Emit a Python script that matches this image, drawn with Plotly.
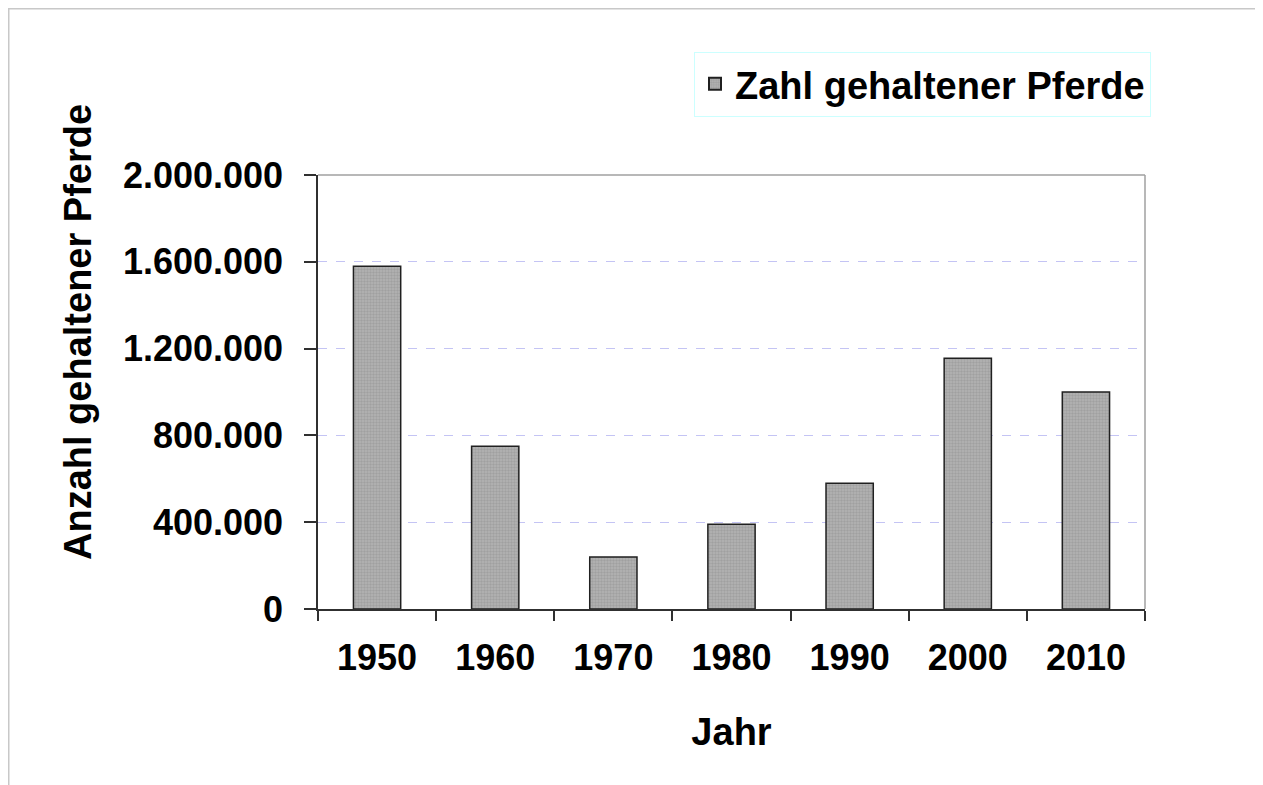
import plotly.graph_objects as go

years = ["1950", "1960", "1970", "1980", "1990", "2000", "2010"]
pferde = [1580000, 750000, 240000, 390000, 580000, 1155000, 1000000]
series_name = "Zahl gehaltener Pferde"
y_title = "Anzahl gehaltener Pferde"
x_title = "Jahr"
y_ticks = [0, 400000, 800000, 1200000, 1600000, 2000000]

FONT = "Liberation Sans, Arial, sans-serif"

W, H = 1263, 785
L, R, T, B = 310, 126, 167, 184
PW, PH = W - L - R, H - T - B


def px_x(x):
    return (x - L) / PW


def px_y(y):
    return (H - B - y) / PH


fig = go.Figure()
fig.add_trace(go.Bar(
    x=years, y=pferde, name=series_name,
    marker=dict(color="#A8A8A8",
                line=dict(color="#202020", width=1.5),
                pattern=dict(shape=".", fgcolor="#8C8C8C", bgcolor="#B4B4B4",
                             size=3, solidity=0.5)),
    showlegend=True,
))

fig.update_layout(
    width=W, height=H,
    margin=dict(l=L, r=R, t=T, b=B),
    paper_bgcolor="white", plot_bgcolor="white",
    separators=",.",
    bargap=0.6,
    font=dict(family=FONT, color="black", size=36),
    showlegend=True,
    legend=dict(x=px_x(1143), y=px_y(76), xanchor="right", yanchor="middle",
                bordercolor="#CCFFFF", borderwidth=1, bgcolor="white",
                font=dict(family=FONT, size=38, color="black", weight="bold"),
                itemsizing="constant"),
    xaxis=dict(
        type="category",
        showline=True, linecolor="#303030", linewidth=1.5,
        ticks="outside", ticklen=10, tickcolor="#303030", tickwidth=1.5,
        tickson="boundaries",
        showgrid=False,
        tickfont=dict(family=FONT, size=36, color="black", weight="bold"),
        ticklabelstandoff=16,
        title=dict(text="<b>" + x_title + "</b>",
                   font=dict(family=FONT, size=38, color="black"), standoff=41),
    ),
    yaxis=dict(
        range=[0, 2000000],
        tickvals=y_ticks,
        tickformat=",d",
        showline=True, linecolor="#303030", linewidth=1.5,
        ticks="outside", ticklen=12, tickcolor="#303030", tickwidth=1.5,
        showgrid=True, gridcolor="#C4C4F4", griddash="dash", gridwidth=1,
        zeroline=False,
        tickfont=dict(family=FONT, size=36, color="black", weight="bold"),
        ticklabelstandoff=14,
    ),
    annotations=[
        dict(text="<b>" + y_title + "</b>", textangle=-90,
             xref="paper", yref="paper", x=px_x(70), y=px_y(324),
             xanchor="center", yanchor="middle", showarrow=False,
             font=dict(family=FONT, size=38, color="black")),
    ],
    shapes=[
        # plot area frame (top and right in gray)
        dict(type="line", xref="paper", yref="paper", x0=0, x1=1, y0=1, y1=1,
             line=dict(color="#A0A0A0", width=1.5), layer="below"),
        dict(type="line", xref="paper", yref="paper", x0=1, x1=1, y0=0, y1=1,
             line=dict(color="#A0A0A0", width=1.5), layer="below"),
        # page border (top and left)
        dict(type="line", xref="paper", yref="paper",
             x0=px_x(0), x1=px_x(W), y0=px_y(0.5), y1=px_y(0.5),
             line=dict(color="#C8C8C8", width=2)),
        dict(type="line", xref="paper", yref="paper",
             x0=px_x(0.5), x1=px_x(0.5), y0=px_y(0), y1=px_y(H),
             line=dict(color="#C8C8C8", width=2)),
    ],
)

fig.write_html("out.html")
